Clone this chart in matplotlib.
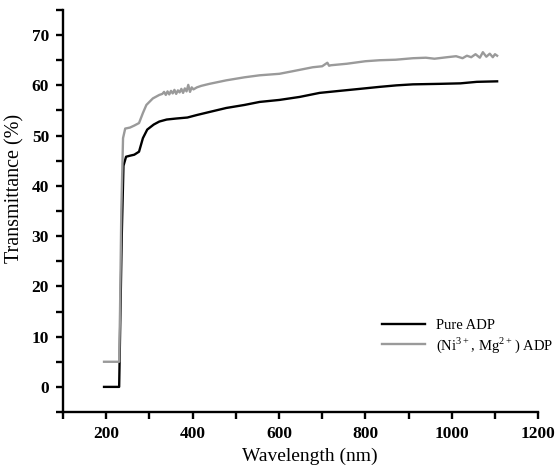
import matplotlib
matplotlib.use("Agg")
import matplotlib.pyplot as plt
from matplotlib.ticker import MultipleLocator

plt.rcParams['font.family'] = ['Liberation Serif', 'DejaVu Serif']
plt.rcParams['mathtext.fontset'] = 'custom'
plt.rcParams['mathtext.rm'] = 'Liberation Serif'
plt.rcParams['mathtext.bf'] = 'Liberation Serif:bold'

# Pure ADP (wavelength nm, transmittance %)
pure_wl = [195, 230, 232, 236, 240, 246, 255, 265, 276, 285, 295, 310, 323, 340, 362, 388,
           410, 439, 478, 520, 555, 601, 648, 694, 740, 787, 833, 872, 910, 972, 1020, 1058, 1105]
pure_t = [0.0, 0.0, 10.0, 30.0, 44.0, 45.8, 46.0, 46.2, 46.8, 49.5, 51.2, 52.2, 52.8, 53.2, 53.4, 53.6,
          54.1, 54.7, 55.5, 56.1, 56.7, 57.1, 57.7, 58.5, 58.9, 59.3, 59.7, 60.0, 60.2, 60.3, 60.4, 60.7, 60.8]

# (Ni3+, Mg2+) doped ADP
dop_wl = [195, 230, 232, 235, 239, 244, 255, 265, 276, 285, 293, 308, 323,
          330, 334, 338, 342, 346, 350, 354, 358, 362, 366, 370, 374, 378, 382, 386, 390, 394, 398, 402,
          410, 420, 439, 478, 520, 555, 601, 631, 678, 700, 712, 716, 720, 757, 800, 833, 870, 910,
          940, 960, 989, 1010, 1025, 1035, 1045, 1055, 1065, 1072, 1080, 1088, 1095, 1100, 1105]
dop_t = [5.0, 5.0, 15.0, 35.0, 49.5, 51.4, 51.6, 52.0, 52.5, 54.5, 56.1, 57.4, 58.1,
         58.3, 58.7, 58.1, 58.8, 58.2, 58.9, 58.4, 59.1, 58.3, 59.0, 58.6, 59.3, 58.5, 59.4, 58.8, 60.1, 58.7, 59.6, 59.2,
         59.6, 59.9, 60.3, 61.0, 61.6, 62.0, 62.3, 62.8, 63.6, 63.8, 64.5, 63.9, 64.0, 64.3, 64.8, 65.0, 65.1, 65.4,
         65.5, 65.3, 65.6, 65.8, 65.4, 65.9, 65.6, 66.2, 65.5, 66.6, 65.7, 66.3, 65.6, 66.2, 65.9]

fig = plt.figure(figsize=(5.6, 4.75), dpi=100)
ax = fig.add_axes([0.1125, 0.1326, 0.8485, 0.8464])

ax.plot(pure_wl, pure_t, color='black', lw=1.7, label='Pure ADP')
ax.plot(dop_wl, dop_t, color='#9a9a9a', lw=1.7, label='(Ni$^{3+}$, Mg$^{2+}$) ADP')

ax.set_xlim(100, 1200)
ax.set_ylim(-5, 75)
ax.xaxis.set_minor_locator(MultipleLocator(100))
ax.yaxis.set_minor_locator(MultipleLocator(5))
ax.set_xticks([200, 400, 600, 800, 1000, 1200])
ax.set_yticks([0, 10, 20, 30, 40, 50, 60, 70])

for s in ['top', 'right']:
    ax.spines[s].set_visible(False)
for s in ['left', 'bottom']:
    ax.spines[s].set_linewidth(1.7)

ax.tick_params(which='both', direction='out', length=5, width=1.7)
ax.tick_params(axis='both', which='major', labelsize=12.5, pad=5)
for lab in ax.get_xticklabels() + ax.get_yticklabels():
    lab.set_fontweight('bold')

ax.set_xlabel('Wavelength (nm)', fontsize=14)
ax.set_ylabel('Transmittance (%)', fontsize=14.5)
ax.xaxis.set_label_coords(0.52, -0.088)
ax.yaxis.set_label_coords(-0.082, 0.557)

leg = ax.legend(loc='upper left', bbox_to_anchor=(0.672, 0.232), frameon=False,
                fontsize=10.5, handlelength=2.9, handletextpad=0.8, labelspacing=0.2,
                borderpad=0, borderaxespad=0)

fig.savefig('out.png', dpi=100)
